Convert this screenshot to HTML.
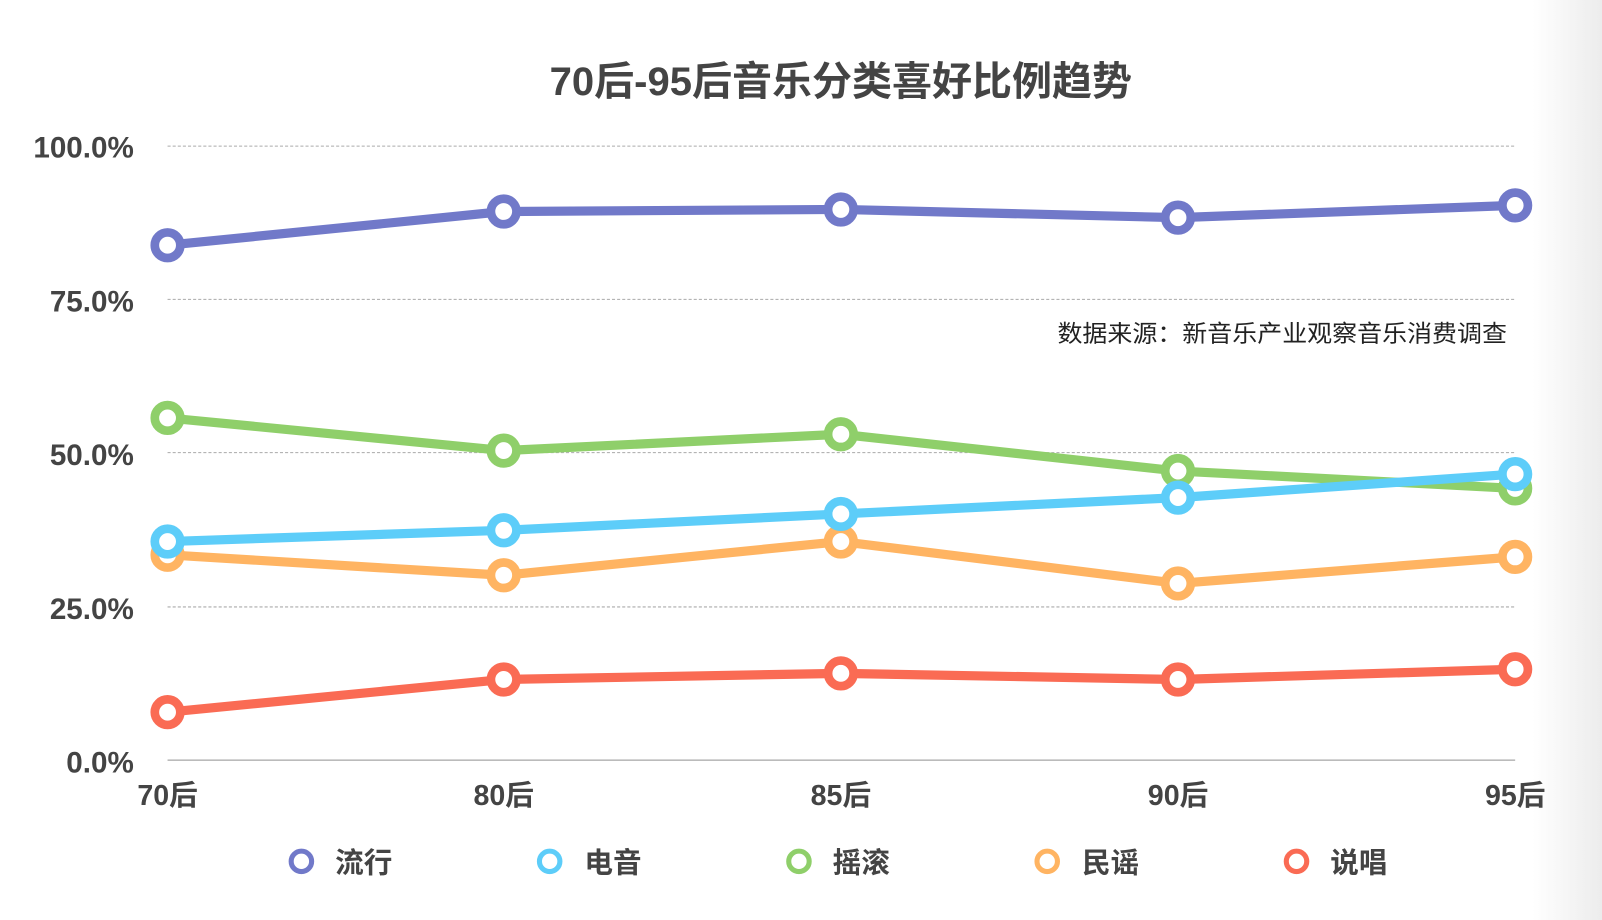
<!DOCTYPE html>
<html><head><meta charset="utf-8"><style>
html,body{margin:0;padding:0;background:#fff;}
svg{display:block;}
text{font-family:"Liberation Sans","Noto Sans CJK SC",sans-serif;}
</style></head><body>
<svg width="1602" height="920" viewBox="0 0 1568 900.4" preserveAspectRatio="none" xmlns="http://www.w3.org/2000/svg">
<defs><linearGradient id="g" x1="0" x2="1" y1="0" y2="0"><stop offset="0" stop-color="#fff"/><stop offset="1" stop-color="#ececec"/></linearGradient></defs>
<rect width="1568" height="901" fill="#fff"/>
<rect x="1500" y="0" width="68" height="901" fill="url(#g)"/>
<text x="823" y="93" font-size="39" fill="#444" text-anchor="middle" font-weight="bold" textLength="570" lengthAdjust="spacingAndGlyphs">70后-95后音乐分类喜好比例趋势</text>
<g stroke="#aaa" stroke-width="1" stroke-dasharray="3,2">
<line x1="164" x2="1483" y1="143" y2="143"/><line x1="164" x2="1483" y1="293" y2="293"/>
<line x1="164" x2="1483" y1="443" y2="443"/><line x1="164" x2="1483" y1="594" y2="594"/>
</g>
<line x1="164" x2="1483" y1="744" y2="744" stroke="#bbb" stroke-width="1.5"/>
<g font-size="29" font-weight="bold" fill="#444" text-anchor="end">
<text x="131" y="154">100.0%</text><text x="131" y="305">75.0%</text><text x="131" y="455">50.0%</text><text x="131" y="606">25.0%</text><text x="131" y="756">0.0%</text>
</g>
<g font-size="28" font-weight="bold" fill="#444" text-anchor="middle">
<text x="164" y="788">70后</text><text x="493" y="788">80后</text><text x="823" y="788">85后</text><text x="1153" y="788">90后</text><text x="1483" y="788">95后</text>
</g>
<text x="1475" y="334" font-size="23" fill="#222" text-anchor="end" textLength="440" lengthAdjust="spacingAndGlyphs">数据来源：新音乐产业观察音乐消费调查</text>
<g fill="none" stroke-width="9" stroke-linejoin="round">
<polyline stroke="#7179c9" points="164,240 493,207 823,205 1153,213 1483,201"/>
<polyline stroke="#8fcf6a" points="164,409 493,441 823,425 1153,461 1483,478"/>
<polyline stroke="#ffb462" points="164,543 493,563 823,530 1153,571 1483,545"/>
<polyline stroke="#5dcdf9" points="164,530 493,519 823,503 1153,487 1483,464"/>
<polyline stroke="#fa6b54" points="164,697 493,665 823,659 1153,665 1483,655"/>
</g>
<g fill="#fff" stroke-width="8.5">
<g stroke="#7179c9"><circle cx="164" cy="240" r="12.5"/><circle cx="493" cy="207" r="12.5"/><circle cx="823" cy="205" r="12.5"/><circle cx="1153" cy="213" r="12.5"/><circle cx="1483" cy="201" r="12.5"/></g>
<g stroke="#8fcf6a"><circle cx="164" cy="409" r="12.5"/><circle cx="493" cy="441" r="12.5"/><circle cx="823" cy="425" r="12.5"/><circle cx="1153" cy="461" r="12.5"/><circle cx="1483" cy="478" r="12.5"/></g>
<g stroke="#ffb462"><circle cx="164" cy="543" r="12.5"/><circle cx="493" cy="563" r="12.5"/><circle cx="823" cy="530" r="12.5"/><circle cx="1153" cy="571" r="12.5"/><circle cx="1483" cy="545" r="12.5"/></g>
<g stroke="#5dcdf9"><circle cx="164" cy="530" r="12.5"/><circle cx="493" cy="519" r="12.5"/><circle cx="823" cy="503" r="12.5"/><circle cx="1153" cy="487" r="12.5"/><circle cx="1483" cy="464" r="12.5"/></g>
<g stroke="#fa6b54"><circle cx="164" cy="697" r="12.5"/><circle cx="493" cy="665" r="12.5"/><circle cx="823" cy="659" r="12.5"/><circle cx="1153" cy="665" r="12.5"/><circle cx="1483" cy="655" r="12.5"/></g>
</g>
<g fill="#fff" stroke-width="5">
<circle cx="295" cy="843" r="10" stroke="#7179c9"/><circle cx="538" cy="843" r="10" stroke="#5dcdf9"/><circle cx="782" cy="843" r="10" stroke="#8fcf6a"/><circle cx="1025" cy="843" r="10" stroke="#ffb462"/><circle cx="1269" cy="843" r="10" stroke="#fa6b54"/>
</g>
<g font-size="28" font-weight="bold" fill="#444">
<text x="328" y="854">流行</text><text x="572" y="854">电音</text><text x="815" y="854">摇滚</text><text x="1059" y="854">民谣</text><text x="1302" y="854">说唱</text>
</g>
</svg>
</body></html>
